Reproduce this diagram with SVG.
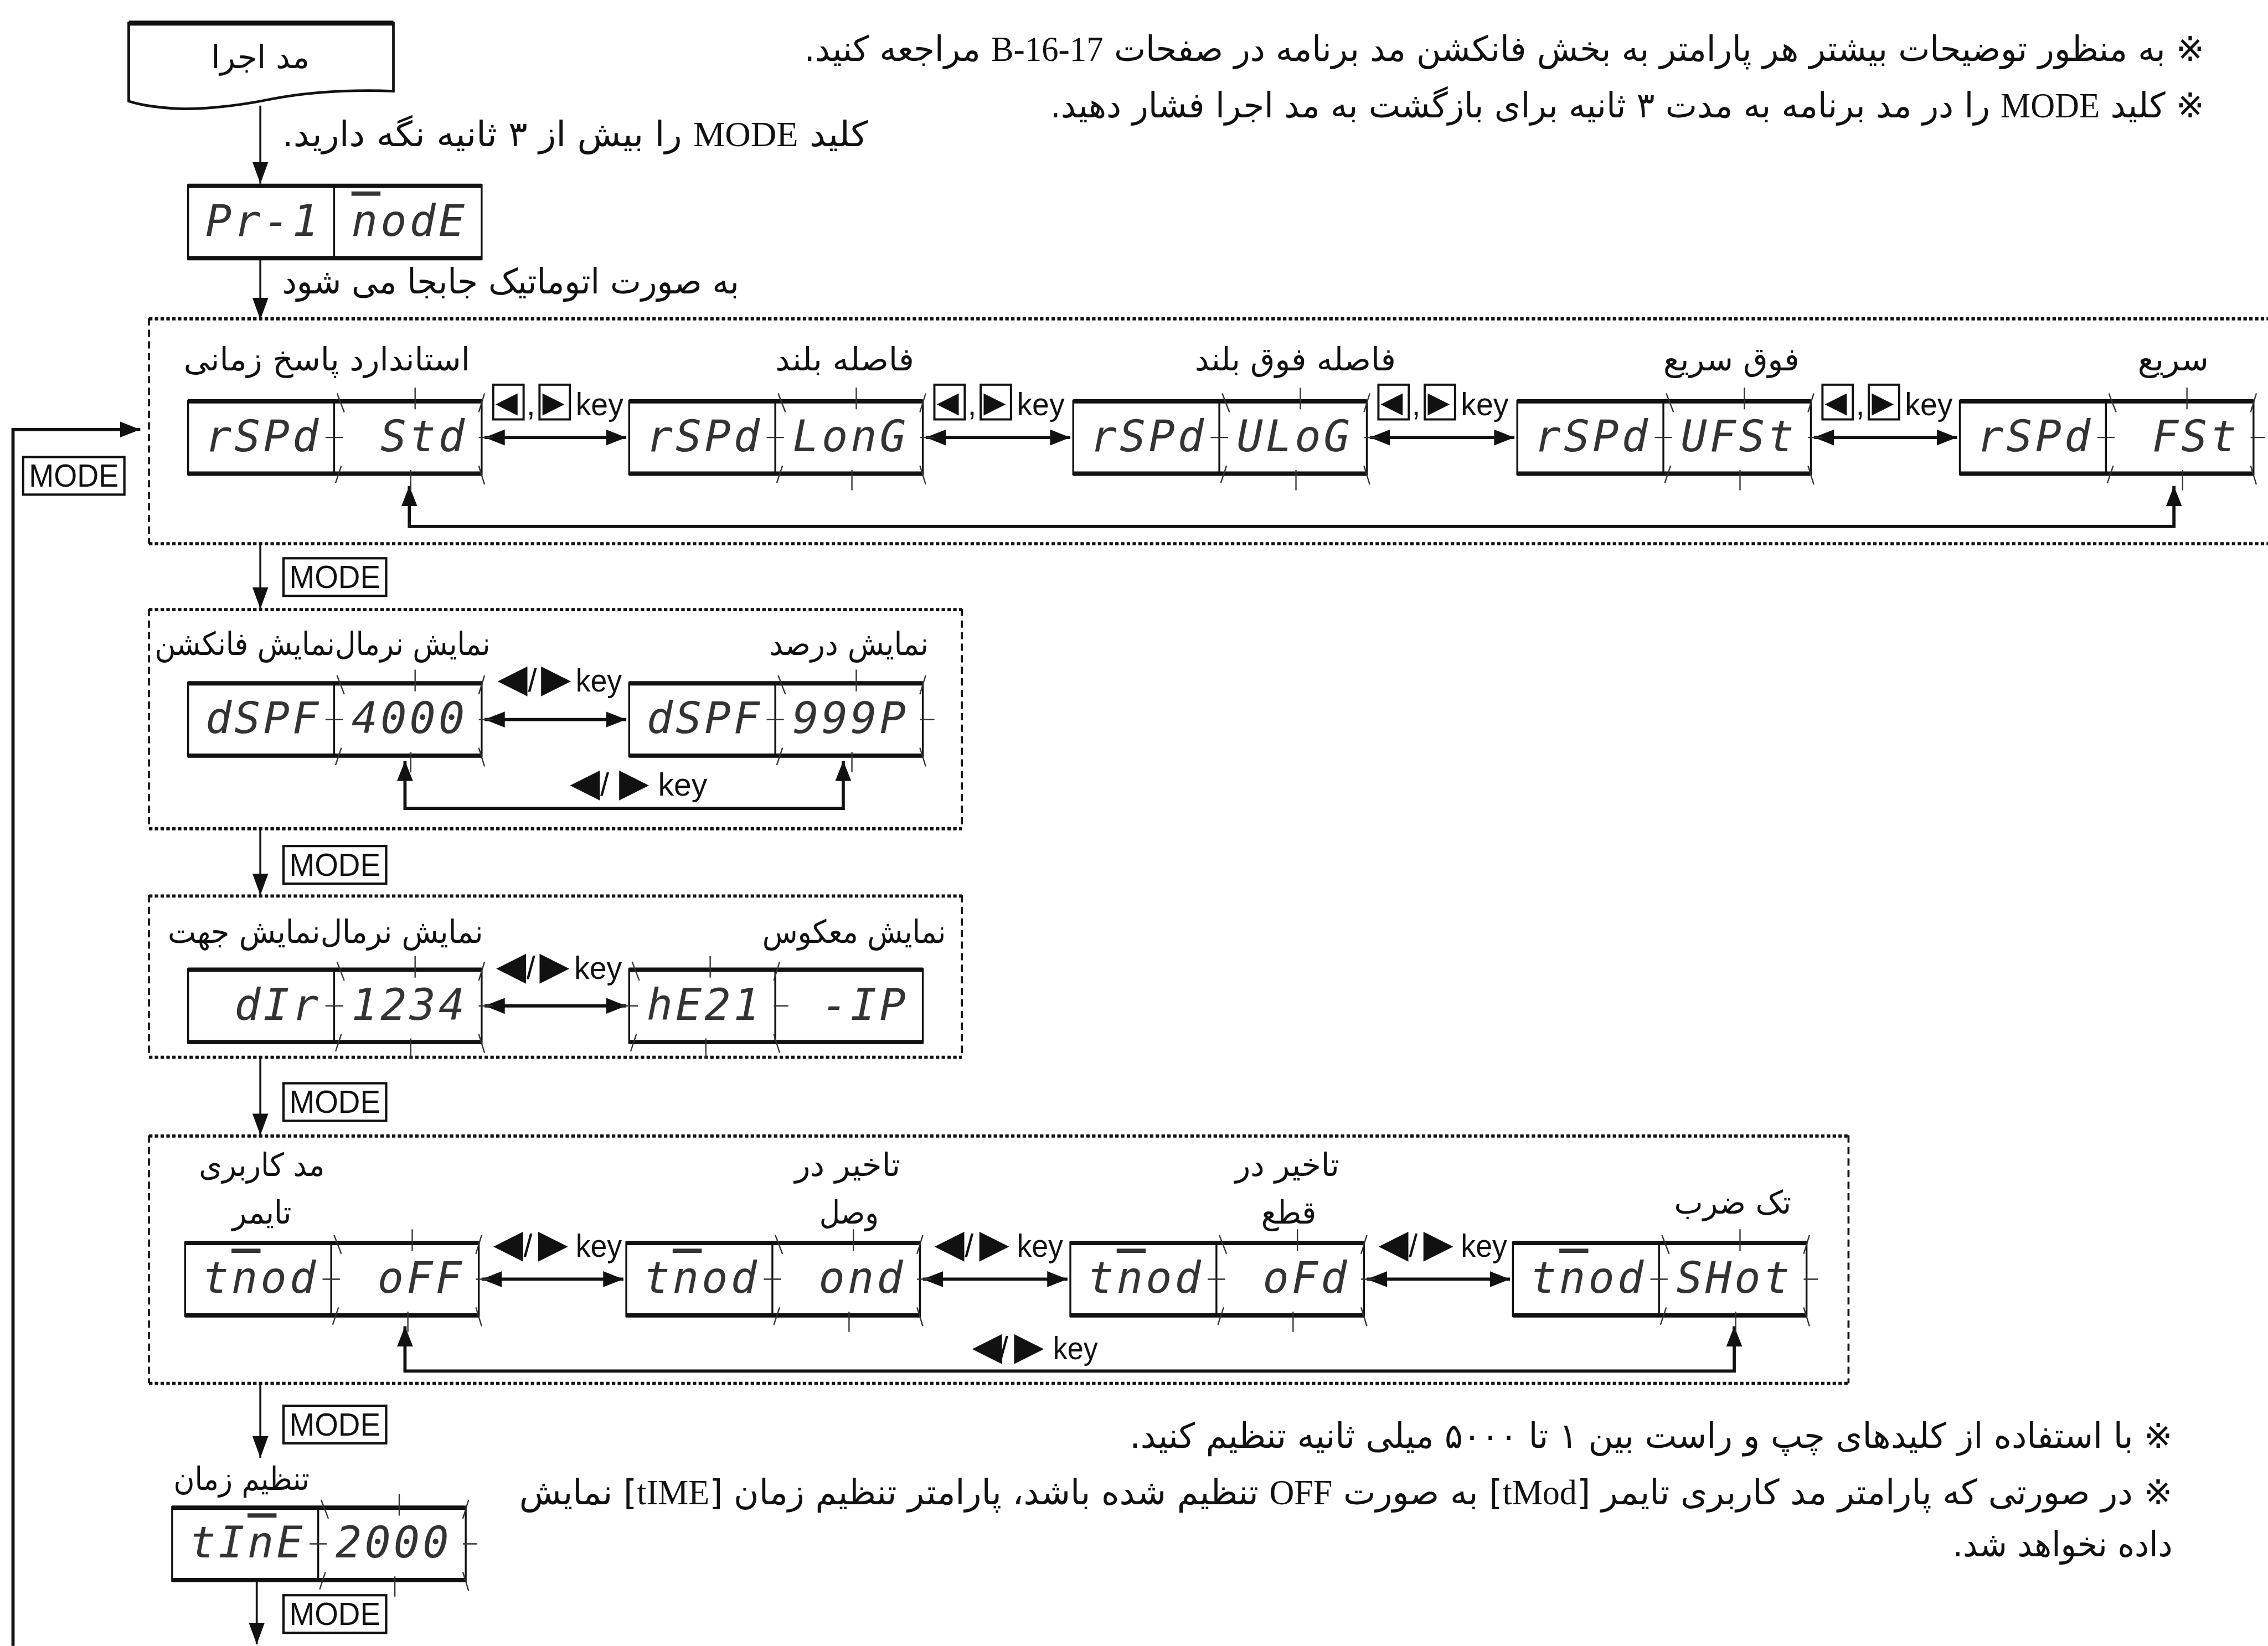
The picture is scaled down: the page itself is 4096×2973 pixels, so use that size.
<svg xmlns="http://www.w3.org/2000/svg" xmlns:xlink="http://www.w3.org/1999/xlink" width="4096" height="2973" viewBox="0 0 4096 2973">
<style>
.fa{font-family:"DejaVu Sans","Noto Sans CJK JP",sans-serif;font-size:22px;fill:#111}
.nt{font-size:24px}
.lat{font-family:"Liberation Serif","Times New Roman",serif;font-size:24px}
.seg{font-family:"DejaVu Sans Mono",monospace;font-size:30px;font-style:oblique;letter-spacing:2px;fill:#333}
.ov{text-decoration:overline}
.md{font-family:"Liberation Sans",Arial,sans-serif;font-size:22px;fill:#111}
.ky{font-family:"Liberation Sans",Arial,sans-serif;font-size:22px;fill:#111}
.tr{font-family:"DejaVu Sans",sans-serif;font-size:27px;fill:#111}
.trs{font-family:"DejaVu Sans",sans-serif;font-size:20px;fill:#111}
.thin{stroke:#111;stroke-width:1.3;fill:none}
.thick{stroke:#111;stroke-width:3;fill:none}
.tk{stroke:#333;stroke-width:0.9;fill:none}
.dot{stroke:#111;stroke-width:2.2;stroke-dasharray:2.4 1.6;fill:none}
.dsh{stroke:#111;stroke-width:1.4;stroke-dasharray:5 3;fill:none}
.ar{stroke:#111;stroke-width:1.4;fill:none}
.ar2{stroke:#111;stroke-width:2.2;fill:none}
.mb{fill:#fff;stroke:#111;stroke-width:1.6}
.kb{fill:#fff;stroke:#111;stroke-width:1.5}
</style>
<defs>
<marker id="ah" markerUnits="userSpaceOnUse" markerWidth="14" markerHeight="12" refX="14" refY="6" orient="auto-start-reverse"><path d="M0,0.5 L14,6 L0,11.5 Z" fill="#111"/></marker>
<marker id="av" markerUnits="userSpaceOnUse" markerWidth="15" markerHeight="11" refX="15" refY="5.5" orient="auto-start-reverse"><path d="M0,0 L15,5.5 L0,11 Z" fill="#111"/></marker>
<g id="fr">
<rect x="0" y="0" width="203" height="51" class="thin"/>
<line x1="0" y1="0.5" x2="203" y2="0.5" class="thick"/>
<line x1="0" y1="50.5" x2="203" y2="50.5" class="thick"/>
<line x1="101" y1="0" x2="101" y2="51" class="thin"/>
</g>
<path id="tk" class="tk" d="M2,-5 L7,8 M56,-9 V6 M100,8 L104,-5 M1,57 L5,45 M53,48 V62 M100,45 L104,58 M-6,25.5 H6 M100,25.5 H110"/>
</defs>
<rect width="4096" height="2973" fill="#fff"/>
<g transform="scale(2.6122)">

<g id="notes">
<text class="fa nt" x="1524" y="42" direction="rtl" text-anchor="start" textLength="968" lengthAdjust="spacingAndGlyphs">※ به منظور توضیحات بیشتر هر پارامتر به بخش فانکشن مد برنامه در صفحات <tspan class="lat">B-16-17</tspan> مراجعه کنید.</text>
<text class="fa nt" x="1524" y="81" direction="rtl" text-anchor="start" textLength="798" lengthAdjust="spacingAndGlyphs">※ کلید <tspan class="lat">MODE</tspan> را در مد برنامه به مدت ۳ ثانیه برای بازگشت به مد اجرا فشار دهید.</text>
<text class="fa nt" x="600" y="101" direction="rtl" text-anchor="start" textLength="405" lengthAdjust="spacingAndGlyphs">کلید <tspan class="lat">MODE</tspan> را بیش از ۳ ثانیه نگه دارید.</text>
<text class="fa nt" x="511" y="203" direction="rtl" text-anchor="start" textLength="316" lengthAdjust="spacingAndGlyphs">به صورت اتوماتیک جابجا می شود</text>
<text class="fa nt" x="1502" y="1001" direction="rtl" text-anchor="start" textLength="721" lengthAdjust="spacingAndGlyphs">※ با استفاده از کلیدهای چپ و راست بین ۱ تا ۵۰۰۰ میلی ثانیه تنظیم کنید.</text>
<text class="fa nt" x="1502" y="1040" direction="rtl" text-anchor="start" textLength="1143" lengthAdjust="spacingAndGlyphs">※ در صورتی که پارامتر مد کاربری تایمر [<tspan class="lat">tMod</tspan>] به صورت <tspan class="lat">OFF</tspan> تنظیم شده باشد، پارامتر تنظیم زمان [<tspan class="lat">tIME</tspan>] نمایش</text>
<text class="fa nt" x="1502" y="1076" direction="rtl" text-anchor="start" textLength="152" lengthAdjust="spacingAndGlyphs">داده نخواهد شد.</text>
</g>

<g id="containers">
<g id="grp-rspd">
<line x1="103" y1="220.5" x2="1568" y2="220.5" class="dot"/>
<line x1="103" y1="376" x2="1568" y2="376" class="dot"/>
<line x1="103" y1="220" x2="103" y2="376" class="dsh"/>
</g>
<g id="grp-dspf">
<line x1="103" y1="421.5" x2="665" y2="421.5" class="dot"/>
<line x1="103" y1="573" x2="665" y2="573" class="dot"/>
<line x1="103" y1="421" x2="103" y2="573" class="dsh"/>
<line x1="665" y1="421" x2="665" y2="573" class="dsh"/>
</g>
<g id="grp-dir">
<line x1="103" y1="619.5" x2="665" y2="619.5" class="dot"/>
<line x1="103" y1="731" x2="665" y2="731" class="dot"/>
<line x1="103" y1="619" x2="103" y2="731" class="dsh"/>
<line x1="665" y1="619" x2="665" y2="731" class="dsh"/>
</g>
<g id="grp-tmod">
<line x1="103" y1="785.5" x2="1278" y2="785.5" class="dot"/>
<line x1="103" y1="956.5" x2="1278" y2="956.5" class="dot"/>
<line x1="103" y1="785" x2="103" y2="956.5" class="dsh"/>
<line x1="1278" y1="785" x2="1278" y2="956.5" class="dsh"/>
</g>
</g>

<g id="connectors">
<line x1="180" y1="73" x2="180" y2="127" class="ar" marker-end="url(#av)"/>
<line x1="180" y1="178" x2="180" y2="221" class="ar" marker-end="url(#av)"/>
<line x1="180" y1="376" x2="180" y2="421" class="ar" marker-end="url(#av)"/>
<line x1="180" y1="573" x2="180" y2="619" class="ar" marker-end="url(#av)"/>
<line x1="180" y1="731" x2="180" y2="785" class="ar" marker-end="url(#av)"/>
<line x1="180" y1="957" x2="180" y2="1008" class="ar" marker-end="url(#av)"/>
<line x1="177.5" y1="1093" x2="177.5" y2="1137" class="ar" marker-end="url(#av)"/>
<polyline points="9,1138 9,297 97,297" class="ar2" marker-end="url(#ah)"/>
<line x1="335" y1="302.5" x2="433" y2="302.5" class="ar2" marker-start="url(#ah)" marker-end="url(#ah)"/>
<line x1="640" y1="302.5" x2="740" y2="302.5" class="ar2" marker-start="url(#ah)" marker-end="url(#ah)"/>
<line x1="947" y1="302.5" x2="1047" y2="302.5" class="ar2" marker-start="url(#ah)" marker-end="url(#ah)"/>
<line x1="1254" y1="302.5" x2="1353" y2="302.5" class="ar2" marker-start="url(#ah)" marker-end="url(#ah)"/>
<polyline points="283,336 283,364 1503,364 1503,336" class="ar2" marker-start="url(#ah)" marker-end="url(#ah)"/>
<line x1="335" y1="497.5" x2="433" y2="497.5" class="ar2" marker-start="url(#ah)" marker-end="url(#ah)"/>
<polyline points="280,526 280,559 583,559 583,526" class="ar2" marker-start="url(#ah)" marker-end="url(#ah)"/>
<line x1="335" y1="695.5" x2="433" y2="695.5" class="ar2" marker-start="url(#ah)" marker-end="url(#ah)"/>
<line x1="333" y1="884.5" x2="431" y2="884.5" class="ar2" marker-start="url(#ah)" marker-end="url(#ah)"/>
<line x1="638" y1="884.5" x2="738" y2="884.5" class="ar2" marker-start="url(#ah)" marker-end="url(#ah)"/>
<line x1="945" y1="884.5" x2="1044" y2="884.5" class="ar2" marker-start="url(#ah)" marker-end="url(#ah)"/>
<polyline points="280,917 280,948 1199,948 1199,917" class="ar2" marker-start="url(#ah)" marker-end="url(#ah)"/>
</g>

<g id="mode-labels">
<rect x="16" y="316" width="70" height="26" class="mb"/><text class="md" x="51" y="336.5" text-anchor="middle" textLength="62" lengthAdjust="spacingAndGlyphs">MODE</text>
<rect x="196" y="386" width="71" height="26" class="mb"/><text class="md" x="231.5" y="406.5" text-anchor="middle" textLength="63" lengthAdjust="spacingAndGlyphs">MODE</text>
<rect x="196" y="585" width="71" height="26" class="mb"/><text class="md" x="231.5" y="605.5" text-anchor="middle" textLength="63" lengthAdjust="spacingAndGlyphs">MODE</text>
<rect x="196" y="749" width="71" height="26" class="mb"/><text class="md" x="231.5" y="769.5" text-anchor="middle" textLength="63" lengthAdjust="spacingAndGlyphs">MODE</text>
<rect x="196" y="972" width="71" height="26" class="mb"/><text class="md" x="231.5" y="992.5" text-anchor="middle" textLength="63" lengthAdjust="spacingAndGlyphs">MODE</text>
<rect x="196" y="1103" width="71" height="26" class="mb"/><text class="md" x="231.5" y="1123.5" text-anchor="middle" textLength="63" lengthAdjust="spacingAndGlyphs">MODE</text>
</g>

<g id="key-labels">
<g id="k1">
<rect x="341" y="266" width="21" height="24" class="kb"/><rect x="373" y="266" width="21" height="24" class="kb"/>
<text class="ky" y="287"><tspan class="trs" x="342.5" y="285">◀</tspan><tspan x="364" y="287">,</tspan><tspan class="trs" x="375" y="285">▶</tspan><tspan x="398" y="287" textLength="33" lengthAdjust="spacingAndGlyphs">key</tspan></text>
</g>
<g id="k2">
<rect x="646" y="266" width="21" height="24" class="kb"/><rect x="678" y="266" width="21" height="24" class="kb"/>
<text class="ky" y="287"><tspan class="trs" x="647.5" y="285">◀</tspan><tspan x="669" y="287">,</tspan><tspan class="trs" x="680" y="285">▶</tspan><tspan x="703" y="287" textLength="33" lengthAdjust="spacingAndGlyphs">key</tspan></text>
</g>
<g id="k3">
<rect x="953" y="266" width="21" height="24" class="kb"/><rect x="985" y="266" width="21" height="24" class="kb"/>
<text class="ky" y="287"><tspan class="trs" x="954.5" y="285">◀</tspan><tspan x="976" y="287">,</tspan><tspan class="trs" x="987" y="285">▶</tspan><tspan x="1010" y="287" textLength="33" lengthAdjust="spacingAndGlyphs">key</tspan></text>
</g>
<g id="k4">
<rect x="1260" y="266" width="21" height="24" class="kb"/><rect x="1292" y="266" width="21" height="24" class="kb"/>
<text class="ky" y="287"><tspan class="trs" x="1261.5" y="285">◀</tspan><tspan x="1283" y="287">,</tspan><tspan class="trs" x="1294" y="285">▶</tspan><tspan x="1317" y="287" textLength="33" lengthAdjust="spacingAndGlyphs">key</tspan></text>
</g>
<text class="ky" y="478"><tspan class="tr" x="344">◀</tspan><tspan x="365">/</tspan><tspan class="tr" x="374">▶</tspan><tspan x="398" textLength="32" lengthAdjust="spacingAndGlyphs">key</tspan></text>
<text class="ky" y="550"><tspan class="tr" x="394">◀</tspan><tspan x="415">/</tspan><tspan class="tr" x="428">▶</tspan><tspan x="455" textLength="34" lengthAdjust="spacingAndGlyphs">key</tspan></text>
<text class="ky" y="677"><tspan class="tr" x="343">◀</tspan><tspan x="364">/</tspan><tspan class="tr" x="373">▶</tspan><tspan x="397" textLength="33" lengthAdjust="spacingAndGlyphs">key</tspan></text>
<text class="ky" y="869"><tspan class="tr" x="341">◀</tspan><tspan x="362">/</tspan><tspan class="tr" x="372">▶</tspan><tspan x="398" textLength="32" lengthAdjust="spacingAndGlyphs">key</tspan></text>
<text class="ky" y="869"><tspan class="tr" x="646">◀</tspan><tspan x="667">/</tspan><tspan class="tr" x="677">▶</tspan><tspan x="703" textLength="32" lengthAdjust="spacingAndGlyphs">key</tspan></text>
<text class="ky" y="869"><tspan class="tr" x="953">◀</tspan><tspan x="974">/</tspan><tspan class="tr" x="984">▶</tspan><tspan x="1010" textLength="32" lengthAdjust="spacingAndGlyphs">key</tspan></text>
<text class="ky" y="940"><tspan class="tr" x="672">◀</tspan><tspan x="691">/</tspan><tspan class="tr" x="701">▶</tspan><tspan x="728" textLength="31" lengthAdjust="spacingAndGlyphs">key</tspan></text>
</g>

<g id="n-run">
<path d="M89,16 H272 V63 C245,62 215,63 185,69 C160,74 135,76 120,75 C105,74 95,72 89,70 Z" fill="#fff" stroke="#111" stroke-width="1.8"/>
<line x1="89" y1="16" x2="272" y2="16" stroke="#111" stroke-width="3.5"/>
<text class="fa" x="180" y="47" text-anchor="middle" textLength="68" lengthAdjust="spacingAndGlyphs">مد اجرا</text>
</g>

<g id="n-pr1">
<use xlink:href="#fr" x="130" y="128"/>
<text class="seg" x="142" y="163">Pr-1</text>
<text class="seg" x="243" y="163"><tspan class="ov">n</tspan>odE</text>
</g>

<g id="n-rspd-std">
<text class="fa" x="226" y="256" text-anchor="middle" textLength="198" lengthAdjust="spacingAndGlyphs">استاندارد پاسخ زمانی</text>
<use xlink:href="#fr" x="130" y="277"/><use xlink:href="#tk" x="231" y="277"/>
<text class="seg" x="142" y="312">rSPd</text><text class="seg" x="263" y="312">Std</text>
</g>
<g id="n-rspd-long">
<text class="fa" x="584" y="256" text-anchor="middle" textLength="96" lengthAdjust="spacingAndGlyphs">فاصله بلند</text>
<use xlink:href="#fr" x="435" y="277"/><use xlink:href="#tk" x="536" y="277"/>
<text class="seg" x="447" y="312">rSPd</text><text class="seg" x="548" y="312">LonG</text>
</g>
<g id="n-rspd-ulog">
<text class="fa" x="895.5" y="256" text-anchor="middle" textLength="139" lengthAdjust="spacingAndGlyphs">فاصله فوق بلند</text>
<use xlink:href="#fr" x="742" y="277"/><use xlink:href="#tk" x="843" y="277"/>
<text class="seg" x="754" y="312">rSPd</text><text class="seg" x="855" y="312">ULoG</text>
</g>
<g id="n-rspd-ufst">
<text class="fa" x="1197" y="256" text-anchor="middle" textLength="94" lengthAdjust="spacingAndGlyphs">فوق سریع</text>
<use xlink:href="#fr" x="1049" y="277"/><use xlink:href="#tk" x="1150" y="277"/>
<text class="seg" x="1061" y="312">rSPd</text><text class="seg" x="1162" y="312">UFSt</text>
</g>
<g id="n-rspd-fst">
<text class="fa" x="1502.5" y="256" text-anchor="middle" textLength="49" lengthAdjust="spacingAndGlyphs">سریع</text>
<use xlink:href="#fr" x="1355" y="277"/><use xlink:href="#tk" x="1456" y="277"/>
<text class="seg" x="1367" y="312">rSPd</text><text class="seg" x="1488" y="312">FSt</text>
</g>

<g id="n-dspf-4000">
<text class="fa" x="339" y="453" direction="rtl" text-anchor="start" textLength="232" lengthAdjust="spacingAndGlyphs">نمایش نرمال‌نمایش فانکشن</text>
<use xlink:href="#fr" x="130" y="472"/><use xlink:href="#tk" x="231" y="472"/>
<text class="seg" x="142" y="507">dSPF</text><text class="seg" x="243" y="507">4000</text>
</g>
<g id="n-dspf-999p">
<text class="fa" x="642" y="453" direction="rtl" text-anchor="start" textLength="110" lengthAdjust="spacingAndGlyphs">نمایش درصد</text>
<use xlink:href="#fr" x="435" y="472"/><use xlink:href="#tk" x="536" y="472"/>
<text class="seg" x="447" y="507">dSPF</text><text class="seg" x="548" y="507">999P</text>
</g>

<g id="n-dir-1234">
<text class="fa" x="334" y="652" direction="rtl" text-anchor="start" textLength="218" lengthAdjust="spacingAndGlyphs">نمایش نرمال‌نمایش جهت</text>
<use xlink:href="#fr" x="130" y="670"/><use xlink:href="#tk" x="231" y="670"/>
<text class="seg" x="162" y="705">dIr</text><text class="seg" x="243" y="705">1234</text>
</g>
<g id="n-dir-rev">
<text class="fa" x="654" y="652" direction="rtl" text-anchor="start" textLength="127" lengthAdjust="spacingAndGlyphs">نمایش معکوس</text>
<use xlink:href="#fr" x="435" y="670"/><use xlink:href="#tk" x="435" y="670"/>
<text class="seg" x="447" y="705">hE21</text><text class="seg" x="568" y="705">-IP</text>
</g>

<g id="n-tmod-off">
<text class="fa" x="181" y="813" text-anchor="middle" textLength="87" lengthAdjust="spacingAndGlyphs">مد کاربری</text>
<text class="fa" x="181" y="846" text-anchor="middle" textLength="41" lengthAdjust="spacingAndGlyphs">تایمر</text>
<use xlink:href="#fr" x="128" y="859"/><use xlink:href="#tk" x="229" y="859"/>
<text class="seg" x="140" y="894">t<tspan class="ov">n</tspan>od</text><text class="seg" x="261" y="894">oFF</text>
</g>
<g id="n-tmod-ond">
<text class="fa" x="586" y="813" text-anchor="middle" textLength="73" lengthAdjust="spacingAndGlyphs">تاخیر در</text>
<text class="fa" x="587" y="846" text-anchor="middle" textLength="41" lengthAdjust="spacingAndGlyphs">وصل</text>
<use xlink:href="#fr" x="433" y="859"/><use xlink:href="#tk" x="534" y="859"/>
<text class="seg" x="445" y="894">t<tspan class="ov">n</tspan>od</text><text class="seg" x="566" y="894">ond</text>
</g>
<g id="n-tmod-ofd">
<text class="fa" x="890" y="813" text-anchor="middle" textLength="72" lengthAdjust="spacingAndGlyphs">تاخیر در</text>
<text class="fa" x="891" y="846" text-anchor="middle" textLength="38" lengthAdjust="spacingAndGlyphs">قطع</text>
<use xlink:href="#fr" x="740" y="859"/><use xlink:href="#tk" x="841" y="859"/>
<text class="seg" x="752" y="894">t<tspan class="ov">n</tspan>od</text><text class="seg" x="873" y="894">oFd</text>
</g>
<g id="n-tmod-shot">
<text class="fa" x="1198" y="839" text-anchor="middle" textLength="81" lengthAdjust="spacingAndGlyphs">تک ضرب</text>
<use xlink:href="#fr" x="1046" y="859"/><use xlink:href="#tk" x="1147" y="859"/>
<text class="seg" x="1058" y="894">t<tspan class="ov">n</tspan>od</text><text class="seg" x="1159" y="894">SHot</text>
</g>

<g id="n-time">
<text class="fa" x="167" y="1030" text-anchor="middle" textLength="94" lengthAdjust="spacingAndGlyphs">تنظیم زمان</text>
<use xlink:href="#fr" x="119" y="1042"/><use xlink:href="#tk" x="220" y="1042"/>
<text class="seg" x="131" y="1077">tI<tspan class="ov">n</tspan>E</text><text class="seg" x="232" y="1077">2000</text>
</g>

</g>
</svg>
